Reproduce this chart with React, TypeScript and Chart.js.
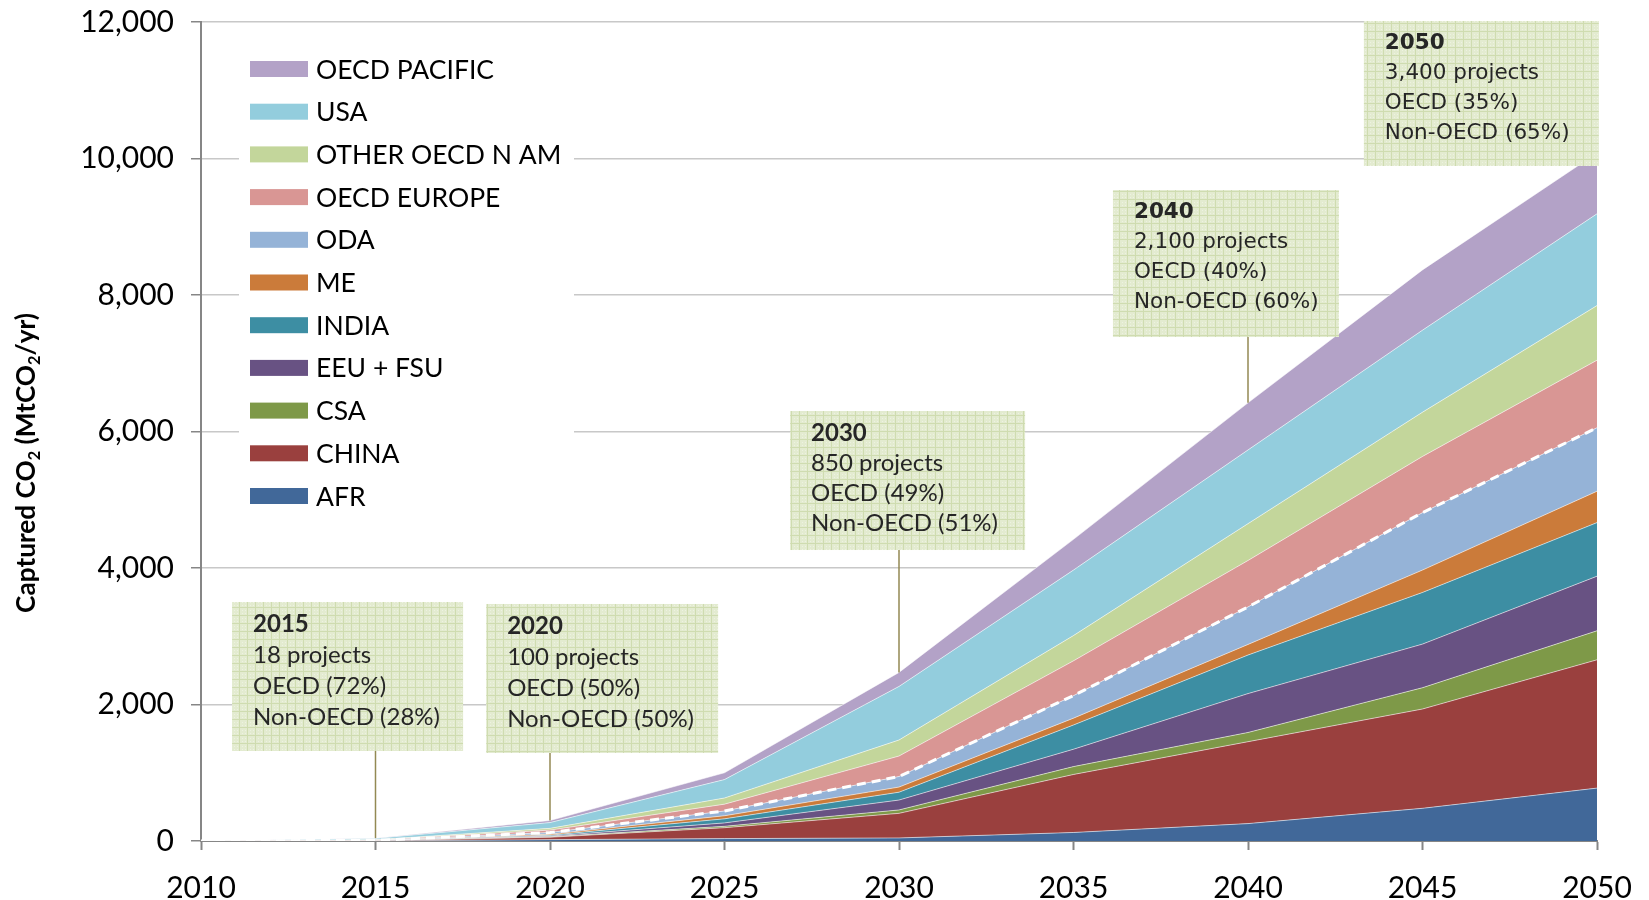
import React, { useEffect, useRef } from "react";
import { Chart, registerables } from "chart.js";

Chart.register(...registerables);

// ---------------- DATA ----------------
const years = ["2010", "2015", "2020", "2025", "2030", "2035", "2040", "2045", "2050"];

const afr = [0, 1, 20, 35, 45, 125, 255, 479, 775];
const china = [0, 2, 35, 160, 360, 850, 1200, 1455, 1880];
const csa = [0, 1, 7, 20, 50, 115, 135, 312, 425];
const eeuFsu = [0, 1, 10, 50, 145, 255, 570, 639, 800];
const india = [0, 2, 13, 60, 115, 355, 565, 757, 785];
const me = [0, 1, 15, 45, 75, 100, 155, 328, 460];
const oda = [0, 2, 25, 70, 155, 330, 550, 841, 930];
const oecdEurope = [0, 5, 35, 100, 300, 510, 680, 824, 990];
const otherOecdNAm = [0, 5, 25, 90, 235, 370, 540, 648, 800];
const usa = [0, 18, 85, 270, 785, 960, 1080, 1202, 1345];
const oecdPacific = [0, 4, 30, 100, 205, 450, 690, 883, 890];

const seriesNames = ["AFR", "CHINA", "CSA", "EEU + FSU", "INDIA", "ME", "ODA", "OECD EUROPE", "OTHER OECD N AM", "USA", "OECD PACIFIC"];
const seriesValues = [afr, china, csa, eeuFsu, india, me, oda, oecdEurope, otherOecdNAm, usa, oecdPacific];
const nonOecdCount = 7; // AFR .. ODA form the non-OECD group (dashed boundary)

const yTickStep = 2000;
const yMin = 0;
const yMax = 12000;

const noteYears = ["2015", "2020", "2030", "2040", "2050"];
const noteProjects = ["18 projects", "100 projects", "850 projects", "2,100 projects", "3,400 projects"];
const noteOecd = ["OECD (72%)", "OECD (50%)", "OECD (49%)", "OECD (40%)", "OECD (35%)"];
const noteNonOecd = ["Non-OECD (28%)", "Non-OECD (50%)", "Non-OECD (51%)", "Non-OECD (60%)", "Non-OECD (65%)"];

// ---------------- STYLE / LAYOUT ----------------
const colors = ["#416899", "#9A403E", "#7E9948", "#685283", "#3D8EA3", "#CB7B3A", "#95B3D7", "#D99694", "#C3D69B", "#93CDDD", "#B3A2C7"];

// box placement in data space (left year, top value) plus pixel size
const noteLayout = [
  { left: 2010.89, top: 3502, w: 231, h: 149, family: "Lato", size: 24, lh: 31 },
  { left: 2018.17, top: 3473, w: 232, h: 149, family: "Lato", size: 24, lh: 31 },
  { left: 2026.88, top: 6300, w: 235, h: 139, family: "Lato", size: 24, lh: 30 },
  { left: 2036.13, top: 9538, w: 226, h: 147, family: "DejaVu Sans", size: 21.5, lh: 30 },
  { left: 2043.32, top: 12015, w: 235, h: 145, family: "DejaVu Sans", size: 21.5, lh: 30 },
];

let boxPattern: CanvasPattern | null = null;
function getPattern(ctx: CanvasRenderingContext2D) {
  if (boxPattern) return boxPattern;
  const c = document.createElement("canvas");
  c.width = 8;
  c.height = 8;
  const g = c.getContext("2d")!;
  g.fillStyle = "#E3EBD0";
  g.fillRect(0, 0, 8, 8);
  g.fillStyle = "#EDF2E1";
  g.fillRect(2, 2, 1, 1);
  g.fillRect(5, 5, 1, 1);
  g.fillRect(2, 5, 1, 1);
  g.fillRect(5, 2, 1, 1);
  g.fillStyle = "#CFDCB0";
  g.fillRect(7, 0, 1, 8);
  g.fillRect(0, 7, 8, 1);
  boxPattern = ctx.createPattern(c, "repeat");
  return boxPattern;
}

function yearToPx(chart: any, yr: number) {
  const xs = chart.scales.x;
  const x0 = xs.getPixelForValue(0);
  const step = xs.getPixelForValue(1) - x0;
  return x0 + ((yr - 2010) / 5) * step;
}

function totalAt(i: number) {
  return seriesValues.reduce((s, arr) => s + arr[i], 0);
}

const overlayPlugin = {
  id: "overlay",
  beforeDatasetsDraw(chart: any) {
    // legend (inside plot area, white background)
    const ctx: CanvasRenderingContext2D = chart.ctx;
    const ca = chart.chartArea;
    ctx.save();
    const lx = ca.left + 38;
    const ly = ca.top + 18;
    ctx.fillStyle = "#ffffff";
    ctx.fillRect(lx, ly, 335, 475);
    const rowTop = ca.top + 47;
    const rowStep = 42.7;
    ctx.font = "26.5px Lato";
    ctx.textBaseline = "middle";
    ctx.textAlign = "left";
    for (let k = 0; k < seriesNames.length; k++) {
      const idx = seriesNames.length - 1 - k;
      const cy = rowTop + k * rowStep;
      ctx.fillStyle = colors[idx];
      ctx.fillRect(lx + 11, cy - 8, 58, 16);
      ctx.fillStyle = "#000";
      ctx.fillText(seriesNames[idx], lx + 77, cy + 1);
    }
    ctx.restore();
  },
  afterDatasetsDraw(chart: any) {
    const ctx: CanvasRenderingContext2D = chart.ctx;
    const ys = chart.scales.y;
    const xs = chart.scales.x;
    ctx.save();
    for (let n = 0; n < noteYears.length; n++) {
      const L = noteLayout[n];
      const bx = yearToPx(chart, L.left);
      const by = ys.getPixelForValue(L.top);
      // pointer
      const yi = years.indexOf(noteYears[n]);
      const px = xs.getPixelForValue(yi);
      const py = ys.getPixelForValue(totalAt(yi));
      if (py > by + L.h) {
        ctx.strokeStyle = "#938953";
        ctx.lineWidth = 1.5;
        ctx.beginPath();
        ctx.moveTo(px, by + L.h);
        ctx.lineTo(px, py);
        ctx.stroke();
      }
      ctx.fillStyle = getPattern(ctx) || "#E3EBD0";
      ctx.fillRect(bx, by, L.w, L.h);
      const lines = [noteYears[n], noteProjects[n], noteOecd[n], noteNonOecd[n]];
      ctx.fillStyle = "#262626";
      ctx.textBaseline = "middle";
      ctx.textAlign = "left";
      for (let j = 0; j < lines.length; j++) {
        ctx.font = (j === 0 ? "bold " : "") + L.size + "px '" + L.family + "'";
        ctx.fillText(lines[j], bx + 21, by + 22 + j * L.lh);
      }
    }
    ctx.restore();
  },
  afterDraw(chart: any) {
    // y axis title with subscripts
    const ctx: CanvasRenderingContext2D = chart.ctx;
    const parts: [string, boolean][] = [
      ["Captured CO", false],
      ["2", true],
      [" (MtCO", false],
      ["2", true],
      ["/yr)", false],
    ];
    const target = 300;
    let size = 27;
    const measure = (sz: number) => {
      let w = 0;
      for (const [t, sub] of parts) {
        ctx.font = "bold " + (sub ? sz * 0.62 : sz) + "px Lato";
        w += ctx.measureText(t).width;
      }
      return w;
    };
    const w0 = measure(size);
    if (w0 > target) size = (size * target) / w0;
    const total = measure(size);
    ctx.save();
    ctx.translate(27, 463);
    ctx.rotate(-Math.PI / 2);
    ctx.fillStyle = "#000";
    ctx.textBaseline = "middle";
    ctx.textAlign = "left";
    let x = -total / 2;
    for (const [t, sub] of parts) {
      ctx.font = "bold " + (sub ? size * 0.62 : size) + "px Lato";
      ctx.fillText(t, x, sub ? size * 0.3 : 0);
      x += ctx.measureText(t).width;
    }
    ctx.restore();
  },
};

export default function App() {
  const ref = useRef<HTMLCanvasElement | null>(null);

  useEffect(() => {
    if (!ref.current) return;
    const areaSets = seriesValues.map((vals, i) => ({
      label: seriesNames[i],
      data: vals,
      backgroundColor: colors[i],
      borderColor: "rgba(255,255,255,0.55)",
      borderWidth: 1,
      fill: i === 0 ? "origin" : "-1",
      pointRadius: 0,
      tension: 0,
      stack: "areas",
      order: 0,
    }));
    const divide = years.map((_, i) => {
      let s = 0;
      for (let k = 0; k < nonOecdCount; k++) s += seriesValues[k][i];
      return s;
    });
    const chart = new Chart(ref.current, {
      type: "line",
      data: {
        labels: years,
        datasets: [
          ...areaSets,
          {
            label: "OECD / Non-OECD",
            data: divide,
            borderColor: "#ffffff",
            borderWidth: 3,
            borderDash: [9, 6],
            fill: false,
            pointRadius: 0,
            tension: 0,
            stack: "divide",
            order: -1,
          },
        ] as any,
      },
      options: {
        animation: false,
        responsive: true,
        maintainAspectRatio: false,
        layout: { padding: { left: 0, right: 52, top: 22, bottom: 0 } },
        plugins: {
          legend: { display: false },
          tooltip: { enabled: false },
          title: { display: false },
        },
        scales: {
          x: {
            type: "category",
            offset: false,
            grid: { drawOnChartArea: false, tickLength: 9, tickColor: "#868686", tickWidth: 2 },
            border: { color: "#868686", width: 2 },
            ticks: { font: { family: "Lato", size: 30 }, color: "#000", padding: 20, maxRotation: 0, autoSkip: false },
            afterFit: (s: any) => {
              s.height = 59;
              s.paddingLeft = 0;
              s.paddingRight = 0;
            },
          },
          y: {
            stacked: true,
            min: yMin,
            max: yMax,
            ticks: {
              stepSize: yTickStep,
              callback: (v: any) => Number(v).toLocaleString("en-US"),
              font: { family: "Lato", size: 30 },
              color: "#000",
              padding: 17,
            },
            grid: { color: "#C8C8C8", lineWidth: 1.5, tickLength: 10, tickColor: "#868686", tickWidth: 1.5 },
            border: { color: "#868686", width: 2 },
            afterFit: (s: any) => {
              s.width = 201;
              s.paddingTop = 0;
              s.paddingBottom = 0;
            },
          },
        },
      } as any,
      plugins: [overlayPlugin],
    });
    return () => chart.destroy();
  }, []);

  return (
    <div style={{ position: "fixed", left: 0, top: 0, width: "100vw", height: "100vh", background: "#fff" }}>
      <canvas ref={ref} />
    </div>
  );
}
